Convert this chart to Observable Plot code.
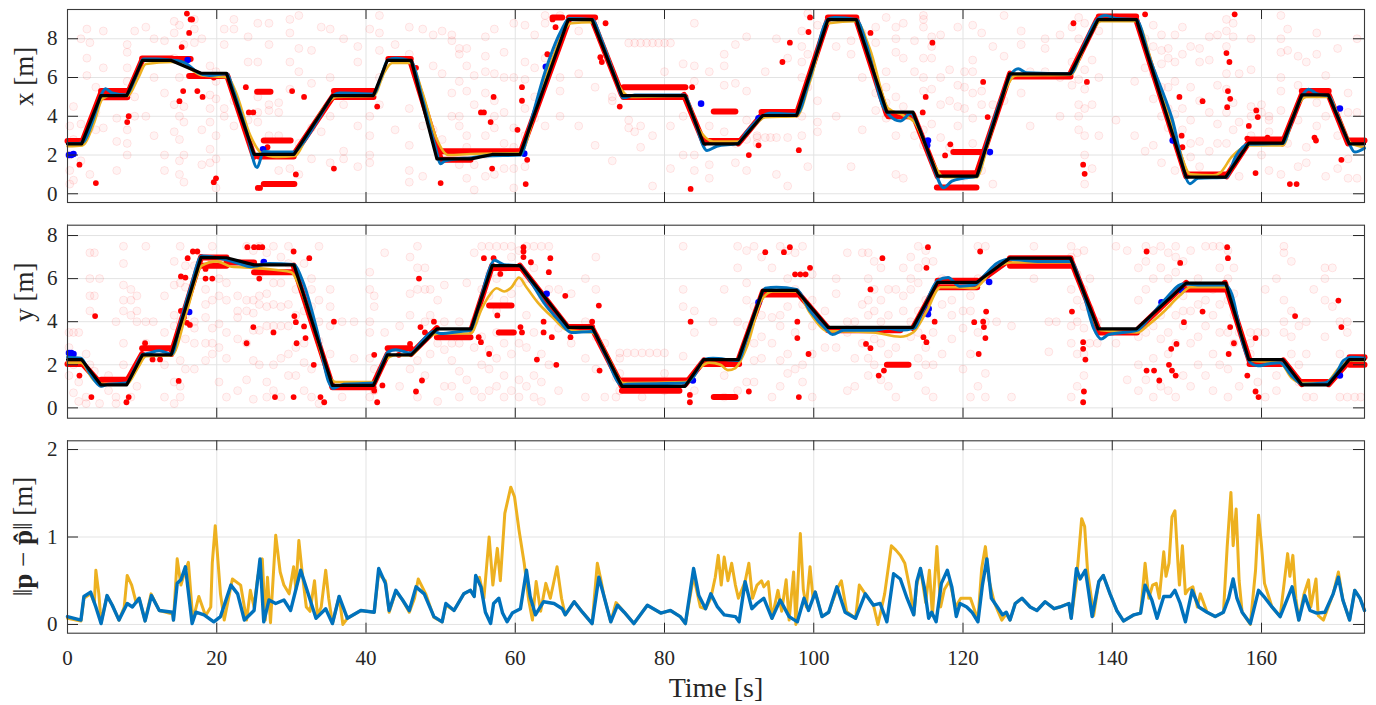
<!DOCTYPE html>
<html><head><meta charset="utf-8">
<script src="https://cdn.jsdelivr.net/npm/d3@7"></script>
<script src="https://cdn.jsdelivr.net/npm/@observablehq/plot@0.6"></script>
<style>
body{margin:0;background:#fff;}
#chart{position:relative;width:1376px;height:705px;}
#chart svg{position:absolute;left:0;font-family:'Liberation Serif','DejaVu Serif',serif;}
#chart svg text{font-family:'Liberation Serif','DejaVu Serif',serif;}
</style></head><body><div id="chart"></div>
<script>
// ---------------- data ----------------
const timeTicks = [0,20,40,60,80,100,120,140,160];
const xTicks = [0,2,4,6,8];
const yTicks = [0,2,4,6,8];
const errTicks = [0,1,2];

const truthT = [0,1.9,4.46,7.94,10.04,13.9,17.9,21.3,25.0,30.35,35.5,41.0,42.85,46.07,49.5,54.1,56.9,60.65,67.1,70.3,74.3,82.75,85.25,89.9,93.15,97.7,101.9,105.7,109.8,113.3,116.6,121.85,126.25,134.4,138.1,143.25,149.9,155.2,158.3,162.85,165.4,168.95,171.75,173.8];
const truthX = [2.58,2.58,5.07,5.07,6.88,6.88,6.22,6.22,2.03,2.03,5.07,5.07,6.88,6.88,1.8,1.8,2.03,2.03,8.99,8.99,5.07,5.07,2.58,2.58,4.04,4.04,8.99,8.99,4.21,4.21,0.91,0.91,6.19,6.19,8.99,8.99,0.86,0.86,2.61,2.61,5.1,5.1,2.58,2.58];
const truthY = [2.24,2.24,1.07,1.07,2.46,2.46,6.99,6.97,6.64,6.64,1.04,1.04,2.46,2.46,3.67,3.67,6.6,6.6,3.74,3.74,1.0,1.0,2.24,2.24,5.45,5.45,3.74,3.74,3.74,3.74,5.83,5.83,6.95,6.95,3.67,3.67,5.79,5.79,2.24,2.24,1.07,1.07,2.24,2.24];

const blueX = [[0,2.6],[1.5,2.6],[2.2,2.7],[3.5,3.9],[4.5,5.1],[5.1,5.42],[6,5.2],[7.9,5.1],[9,5.9],[10.2,6.95],[12,6.95],[13.8,6.9],[15,6.85],[16,6.7],[17.5,6.25],[19,6.1],[21.4,6.2],[22,5.6],[24,3.2],[25.4,1.35],[26.3,2.2],[27.5,2.15],[30.3,2.15],[31.5,2.6],[34,4.1],[35.7,5.1],[36.5,5.2],[41,5.15],[42,6.0],[42.9,6.9],[44,7.0],[46,6.85],[47.5,5.0],[49.3,2.4],[50,1.55],[50.6,1.7],[52,1.8],[54,1.85],[56,1.95],[60.7,2.0],[62,3.6],[64,6.3],[66,8.3],[67.3,9.05],[70.3,9.0],[71.5,8.0],[73.5,5.9],[74.5,4.95],[76,5.1],[82.6,5.1],[84,3.8],[85.7,2.23],[87,2.45],[89.8,2.6],[91,3.2],[93.1,4.0],[94,4.15],[97.7,4.1],[99.5,6.0],[101.9,9.0],[102.8,9.1],[105.7,9.0],[107,7.8],[109.3,4.5],[110,4.1],[111.6,3.75],[113,4.15],[114,3.5],[116,1.4],[117.4,0.31],[118.5,0.65],[120,0.8],[121.8,0.9],[123,2.4],[125,4.8],[126.5,6.2],[127.4,6.45],[128.5,6.25],[134.4,6.2],[136,7.5],[138,9.0],[139.1,9.2],[140.5,9.05],[143.2,9.0],[145,7.0],[148,3.9],[150.4,0.52],[151.5,0.8],[155.3,0.85],[156.5,1.9],[158.2,2.55],[162.85,2.6],[164,3.7],[165.5,5.1],[166.3,5.4],[167.5,5.15],[169,5.05],[170,4.2],[171.6,2.7],[172.5,2.15],[173.8,2.35]];
const orangeX = [[0,2.45],[2,2.5],[3.5,3.6],[4.7,4.9],[6,5.1],[8,5.05],[9.5,6.0],[10.5,6.7],[14,6.8],[16,6.55],[18,6.1],[21.5,6.0],[22.5,5.3],[24.5,3.0],[26,2.1],[28,1.9],[30.5,1.95],[32,2.9],[34.5,4.5],[36,5.0],[41,5.05],[42.5,6.3],[43.5,6.75],[46,6.75],[47.5,5.3],[49.5,2.8],[51,2.0],[54,2.05],[60.7,2.1],[62.5,4.0],[65,7.0],[67.5,8.8],[70.3,8.85],[72,7.5],[74,5.5],[75.5,5.0],[82.6,5.05],[84.5,3.4],[86.5,2.7],[89.9,2.7],[91.5,3.3],[93.5,3.95],[97.7,4.0],[99.5,5.8],[102,8.8],[105.7,8.9],[107.5,7.5],[110,4.4],[112,4.05],[113.5,3.7],[115.5,2.0],[117.5,0.85],[121.8,0.85],[123.5,2.8],[125.5,5.2],[127,6.1],[134.4,6.15],[136.5,7.8],[138.5,8.9],[143.2,8.9],[145.5,6.5],[148.5,2.9],[150.5,1.0],[153.5,0.95],[154.5,1.1],[156,1.9],[158.5,2.5],[162.85,2.5],[164.5,4.3],[166,5.0],[169,5.0],[170.5,3.8],[172,2.6],[173.8,2.4]];
const blueY = [[0,2.35],[1.8,2.3],[3,1.6],[4.5,1.0],[5.5,1.1],[7.9,1.15],[9,1.8],[10,2.45],[11,2.55],[12.3,2.65],[14,2.5],[15,3.8],[16.5,5.6],[18,7.05],[19.5,7.0],[21,6.9],[23,6.7],[24.5,6.55],[25.5,6.6],[27,6.7],[30.3,6.65],[31.5,5.9],[33.5,3.5],[35,1.2],[35.6,0.9],[37,1.1],[41,1.15],[42,1.9],[43,2.6],[44,2.7],[46,2.55],[47.5,3.1],[49,3.55],[50,3.45],[52.7,3.55],[54,3.6],[55,4.6],[56.5,6.4],[57.2,6.85],[58.5,6.65],[60.6,6.6],[62,5.9],[64,4.8],[66,4.0],[67.5,3.5],[70.3,3.55],[72,2.5],[74.3,1.05],[75,1.1],[82.9,1.15],[84,1.5],[85.3,2.25],[86.5,2.3],[89.9,2.2],[91,3.2],[92.5,4.8],[93.5,5.55],[95,5.6],[97.7,5.5],[99.5,4.5],[101.8,3.6],[102.5,3.4],[104,3.6],[108,3.6],[110,3.7],[111.6,3.6],[113.5,3.7],[114.5,4.4],[116.6,5.9],[118,6.05],[119.5,5.65],[121.5,5.7],[123,6.2],[124.5,6.7],[126.2,6.9],[128,6.85],[130,6.8],[134.4,6.8],[136,5.5],[137.5,3.7],[138.5,3.2],[139.5,3.4],[143.3,3.6],[145,4.2],[147,5.0],[149.5,5.75],[152,5.7],[155.1,5.7],[156,5.3],[157.5,3.0],[158.5,2.1],[159.5,1.95],[161,2.05],[162.5,2.1],[164,1.5],[165.5,1.1],[168.5,1.15],[170,1.6],[171,2.2],[172,2.35],[173.8,2.3]];
const orangeY = [[0,2.1],[1.8,2.1],[3.5,1.3],[5,1.1],[7.9,1.1],[9.5,1.9],[10.5,2.4],[14,2.45],[16,4.5],[18,6.6],[20,6.8],[22,6.55],[25,6.5],[28,6.4],[30,6.3],[31,5.7],[33,3.8],[35,1.5],[36,1.2],[41,1.2],[42.5,2.2],[44,2.45],[46,2.45],[48,3.2],[50,3.45],[54,3.45],[55.5,4.6],[56.5,5.2],[57.5,5.55],[58.5,5.4],[59.5,5.6],[60.5,6.05],[61.5,5.6],[63,4.9],[65,4.2],[67,3.6],[70.3,3.5],[72.5,2.3],[74.5,1.15],[82.9,1.2],[84.5,1.8],[86,2.1],[87.5,2.0],[88.5,1.75],[89.5,1.85],[91,2.8],[93,5.0],[94.5,5.4],[97.7,5.4],[99.5,4.4],[102,3.55],[104,3.55],[108,3.5],[111.6,3.3],[113.3,3.5],[115,4.4],[117,5.6],[119,5.6],[121.5,5.55],[124,6.4],[126.5,6.75],[134.4,6.75],[136.5,5.0],[138.5,3.6],[143.3,3.5],[145,3.9],[147,4.5],[149,5.2],[150.5,5.6],[155.1,5.6],[157,3.8],[158.5,2.2],[162.5,2.1],[164,1.4],[165.5,1.15],[168.5,1.15],[170.5,1.9],[172,2.2],[173.8,2.2]];

// measurement clusters: [t1, v1, t2, v2]
const xBands = [[0,2.72,2,2.72],[4.5,5.3,8,5.3],[4.5,4.98,8,4.98],[10,6.98,14,6.98],[14,6.95,16.5,6.95],[16.3,6.08,21.4,6.08],[26.3,2.75,29.9,2.75],[25.6,1.92,30.3,1.92],[26.3,0.5,30.4,0.5],[25.4,5.27,27.2,5.27],[35.7,5.3,41,5.3],[35.7,5.0,41,5.0],[43,6.95,46,6.95],[50,2.2,60.7,2.2],[50,1.75,54,1.75],[65,9.1,66.3,9.1],[67.2,9.1,70.7,9.1],[74.5,5.5,82.8,5.5],[74.5,5.0,82.8,5.0],[85.3,2.72,90,2.72],[86.6,4.25,89.5,4.25],[93,4.22,97.7,4.22],[101.9,9.1,105.7,9.1],[110,4.0,113.3,4.0],[116.8,1.06,121.8,1.06],[116.5,0.33,121.8,0.33],[118.7,2.15,122.7,2.15],[126.3,6.05,134.4,6.05],[138.2,9.15,143.2,9.15],[149.9,1.0,155.3,1.0],[158.3,2.8,162.8,2.8],[165.4,5.3,169,5.3],[171.6,2.75,173.8,2.75],
 [2,2.7,4.5,5.2],[8,5.1,10,6.9],[21.4,6.1,25,1.9],[30.3,2.0,35.7,5.1],[46,6.8,50,1.8],[60.7,2.1,67.2,9.0],[70.3,9.0,74.3,5.1],[82.6,5.1,85.3,2.6],[89.9,2.6,93.1,4.1],[97.7,4.1,101.9,9.0],[105.7,9.0,109.8,4.1],[113.3,4.1,116.6,0.9],[121.8,1.0,126.3,6.2],[134.4,6.2,138,9.0],[143.2,9.0,149.9,0.9],[155.3,0.9,158.2,2.6],[162.8,2.6,165.4,5.1],[169,5.1,171.6,2.6]];
const yBands = [[0,2.04,1.9,2.04],[4.5,1.3,8,1.3],[10,2.77,14,2.77],[18,6.6,21.3,6.6],[18,6.98,21.3,6.98],[21.3,6.75,25,6.75],[25,6.3,30.3,6.3],[35.5,0.96,41,0.96],[42.9,2.77,46,2.77],[49.5,3.28,54,3.28],[57,6.49,60.7,6.49],[56.5,4.75,59.5,4.75],[57.8,3.5,59.8,3.5],[67.1,3.75,70.3,3.75],[74.3,1.27,83,1.27],[74.3,0.8,82,0.8],[85.3,2.04,90,2.04],[86.6,0.5,89.5,0.5],[93.2,5.26,97.7,5.26],[101.9,3.6,111.6,3.6],[109.8,2.0,112.7,2.0],[116.6,5.6,121.9,5.6],[116.6,5.9,121.9,5.9],[126.3,6.6,134.4,6.6],[126.3,6.95,134.4,6.95],[138.2,3.5,143.3,3.5],[149.9,5.5,155.1,5.5],[158.4,2.04,162.9,2.04],[165.4,1.2,169,1.2],[171.8,2.35,173.8,2.35],[171.8,2.0,173.8,2.0],
 [1.9,2.1,4.5,1.1],[7.9,1.2,10,2.5],[13.9,2.5,17.9,7.0],[30.3,6.6,35.5,1.0],[41,1.1,42.9,2.5],[46,2.5,49.5,3.7],[54.1,3.6,56.9,6.6],[60.6,6.6,67.1,3.7],[70.3,3.7,74.3,1.0],[82.8,1.1,85.3,2.2],[89.9,2.2,93.2,5.4],[97.7,5.4,101.9,3.7],[113.3,3.7,116.6,5.8],[121.9,5.8,126.3,6.9],[134.4,6.9,138.2,3.6],[143.3,3.6,149.9,5.8],[155.1,5.8,158.4,2.2],[162.9,2.2,165.4,1.1],[169,1.1,171.8,2.2]];

const xDots = [[1.6,1.5],[3.8,0.55],[8.0,3.7],[8.2,4.0],[15.3,7.57],[16.0,9.3],[16.5,9.0],[16.7,9.0],[16.3,8.3],[15.0,4.78],[15.5,5.3],[17.4,5.3],[18.1,5.0],[19.6,6.0],[19.6,0.6],[19.9,0.8],[23.9,5.5],[24.3,4.2],[24.9,4.2],[25.5,0.3],[25.8,0.3],[26.8,2.4],[30.6,1.0],[30.1,5.3],[31.7,5.0],[35.7,1.3],[41.5,4.5],[46.7,6.5],[50.0,0.55],[55.4,4.2],[55.8,4.2],[56.7,3.7],[56.9,1.3],[57.1,5.0],[60.3,3.3],[60.9,5.5],[60.9,4.8],[61.4,0.5],[61.6,1.75],[64.3,7.2],[65.0,9.0],[65.4,8.6],[71.4,7.05],[71.6,6.8],[72.1,8.8],[74.0,4.5],[83.5,0.25],[83.7,5.5],[91.3,2.0],[92.6,2.5],[95.8,6.8],[96.8,7.8],[98.0,2.25],[99.3,8.35],[99.5,9.1],[107.6,8.3],[114.6,4.2],[115.0,5.0],[115.9,7.8],[117.6,1.98],[118.3,2.55],[122.7,5.77],[123.3,3.96],[134.8,8.8],[136.1,1.5],[136.3,1.03],[136.6,5.77],[144.4,9.26],[149.0,5.0],[149.3,3.0],[149.4,2.4],[152.1,4.78],[155.3,7.26],[155.4,4.47],[155.5,5.3],[155.7,6.8],[155.8,4.9],[156.4,9.26],[158.1,2.85],[158.3,3.5],[159.2,1.07],[159.3,4.3],[159.5,3.96],[160.8,2.9],[163.8,0.5],[164.7,0.5],[167.1,2.9],[167.3,2.75],[170.7,1.75]];
const yDots = [[1.6,1.5],[3.2,0.5],[3.7,4.26],[7.9,0.26],[8.2,0.5],[10.4,3.0],[11.4,2.25],[12.4,2.25],[14.9,1.25],[15.2,4.5],[15.6,4.2],[16.0,3.95],[16.4,3.85],[15.2,6.1],[15.8,6.05],[16.1,6.95],[16.8,7.26],[17.4,7.26],[18.5,6.45],[18.5,6.0],[19.4,6.0],[24.0,3.0],[24.1,7.46],[25.0,7.46],[25.6,7.46],[26.1,7.46],[24.9,3.75],[25.7,6.0],[27.6,3.5],[27.8,0.5],[30.3,0.5],[30.3,7.26],[30.4,4.26],[30.6,3.98],[30.7,3.0],[31.7,3.78],[31.9,3.24],[32.4,6.95],[33.0,2.0],[33.9,0.5],[34.4,0.26],[35.7,4.0],[41.1,2.46],[41.1,0.8],[41.5,0.26],[42.2,1.04],[44.4,2.46],[45.9,2.97],[46.7,0.76],[47.1,6.0],[47.5,1.27],[47.3,3.75],[47.9,3.5],[49.1,4.0],[55.4,3.05],[55.8,6.95],[57.1,6.95],[56.5,2.5],[55.1,3.28],[57.6,4.29],[58.0,6.22],[60.7,3.75],[60.9,3.5],[61.1,7.46],[61.1,7.26],[61.1,7.0],[62.1,6.76],[62.9,2.24],[63.8,4.0],[63.8,3.5],[64.5,6.3],[64.7,6.95],[64.9,3.28],[65.5,2.0],[65.4,4.26],[66.7,5.2],[67.4,3.28],[70.3,4.0],[71.2,4.75],[71.3,1.73],[83.5,4.0],[83.4,0.26],[83.4,0.6],[91.3,0.76],[93.5,7.23],[96.0,7.23],[96.8,7.46],[97.5,6.2],[98.2,6.2],[98.9,6.2],[99.5,6.5],[98.0,0.5],[99.3,2.5],[97.8,4.0],[97.8,3.24],[107.6,5.5],[109.2,6.95],[107.6,2.77],[107.0,2.97],[109.4,1.73],[108.7,1.5],[115.3,7.46],[115.1,6.5],[114.7,3.28],[115.1,3.05],[116.2,4.0],[122.3,7.26],[123.1,4.47],[122.7,4.0],[122.8,3.75],[123.0,3.24],[122.1,2.5],[121.5,3.98],[134.6,4.47],[136.1,3.05],[136.1,2.74],[136.4,2.24],[136.2,0.76],[136.1,0.26],[144.6,7.26],[144.6,1.73],[145.6,1.73],[146.3,1.27],[147.9,2.74],[147.6,2.0],[148.0,1.73],[148.5,1.5],[148.6,2.97],[149.1,6.73],[149.6,3.98],[152.1,4.47],[155.4,7.46],[155.5,6.95],[155.6,2.5],[155.8,3.75],[156.3,3.0],[158.1,1.5],[159.2,3.24],[159.2,0.76],[159.6,0.5],[164.5,4.26],[170.3,4.98],[170.7,3.75]];

const xBlueDots = [[0.2,2.0],[0.5,2.0],[0.8,2.05],[16.1,6.9],[26.2,2.3],[61.2,2.07],[64.1,6.55],[84.9,4.65],[92.6,3.9],[115.2,2.5],[115.3,2.75],[123.6,2.15],[148.1,2.75],[170.5,4.4]];
const yBlueDots = [[0.2,2.55],[0.5,2.55],[0.8,2.5],[16.3,4.45],[26.3,6.77],[64.2,5.3],[83.8,1.27],[92.6,4.9],[115.3,4.35],[115.4,4.6],[123.5,5.84],[146.6,4.9],[149.3,5.45],[170.5,1.5]];

// rejected measurements (faint): [t, [values]]
const xFaint = [[0.3,[0.5,1.2,2.0,3.5]],[0.8,[0.7,4.5,2.8]],[1.8,[1.7,3.6,8.0]],[2.6,[8.5,7.0,6.1]],[3.0,[7.8,3.4,1.0]],[3.8,[4.2,3.3,5.5]],[4.8,[3.4,6.5,8.4]],[6.6,[3.9,2.7,1.2]],[8.0,[7.7,7.3,6.5,5.8,3.3,2.6,2.0]],[9.0,[8.4,5.0,4.0]],[10.5,[4.0,8.6]],[11.6,[8.0,6.0,3.0]],[13.0,[7.9,5.2,2.0,1.2]],[14.3,[8.9,8.3,7.0,4.6,3.2]],[15.0,[8.7,6.0,4.0,2.8,1.7,1.0]],[15.6,[7.7,4.5,3.7,2.0,0.6]],[17.0,[9.0,8.5,7.8]],[18.0,[8.0,3.3,1.5]],[19.1,[6.6,5.1,4.4,3.7,2.3,1.6]],[19.9,[6.3,5.8,4.9,3.0,1.8,0.3]],[21.0,[8.5,7.7,4.4,4.0]],[22.3,[9.0,8.5,4.8,3.5]],[24.2,[8.1,6.8,3.8]],[25.5,[8.8,6.8,5.0,4.2,3.7]],[27.0,[8.8,7.7,4.6,3.0,4.3]],[28.3,[4.2,4.7,3.0,1.2]],[29.8,[9.0,8.3,6.8,5.4,1.3]],[31.0,[9.2,7.5,6.3,2.6,1.0]],[32.7,[7.4,5.7,3.4,1.8]],[34.0,[8.6,3.2]],[35.2,[8.5,6.0,4.0,1.6]],[37.0,[8.0,4.6,2.2,1.8]],[38.9,[7.6,6.8,3.5,1.4]],[40.5,[8.5,4.0,3.0,2.0,1.6]],[41.8,[9.2,8.3,7.4,6.0,4.6]],[43.9,[7.7,3.3]],[45.8,[8.6,7.2,4.4,2.5,1.2,0.6]],[47.6,[8.5,3.5,0.9]],[49.0,[8.2,6.6,3.3]],[50.2,[8.4,6.2,2.8]],[51.5,[8.2,7.9,5.2,4.0]],[52.5,[7.2,7.5,5.8,4.0,3.5,1.5]],[53.5,[7.5,6.6,5.3,3.0,2.4,0.8]],[54.5,[6.1,4.6,1.5,0.2]],[56.0,[8.1,7.1,6.3,5.2,3.0,2.0,0.9]],[57.2,[8.5,6.2,4.8,4.0,3.4,1.0]],[58.5,[7.3,6.0,4.2,2.6,1.3]],[59.8,[8.8,6.0,3.4,2.4,1.3,0.3]],[61.3,[8.7,6.8,5.9,4.4,3.0,1.4]],[62.6,[8.2,6.5,5.0,3.9]],[64.0,[9.2,8.8,7.0,3.5]],[66.0,[9.2,6.0,5.3,4.0]],[68.5,[8.4,6.2,3.5]],[70.7,[8.9,5.5,2.5]],[73.0,[5.0,4.8,1.7]],[75.2,[7.78,3.4,3.8]],[76.0,[7.78,3.2]],[76.8,[7.78,3.5,2.4]],[77.6,[7.78]],[78.4,[7.78,3.0,0.4]],[79.2,[7.78]],[80.0,[7.78,6.3]],[80.8,[7.78,3.5,1.3]],[82.5,[6.7,2.0,4.0]],[84.0,[8.8,6.6,5.8,2.0,1.2]],[86.0,[6.3,3.5,1.5,0.8]],[88.0,[7.2,6.6,5.6,3.2]],[89.5,[7.7,5.7,2.6,1.6]],[91.0,[8.1,5.3,3.8,2.8,1.2]],[92.4,[3.0,2.9,2.6]],[93.5,[2.9,6.3]],[94.2,[2.9]],[95.0,[8.0,2.9,1.0]],[96.5,[7.0,2.9,0.4]],[98.4,[8.4,7.6,6.8,6.0,4.0,3.0]],[99.2,[9.3,7.2,5.5,1.4]],[100.5,[8.7,4.8,3.7,3.2]],[103.0,[7.6,4.0]],[105.0,[7.9,7.2,1.4]],[106.5,[8.3,6.0,3.3]],[108.3,[8.6,7.8,5.2,4.3]],[109.7,[9.1,6.3,5.5,4.7,3.9]],[111.0,[8.6,8.0,7.3,5.0,3.0,1.0]],[112.0,[8.8,7.0,4.5,0.8]],[113.5,[7.9,6.3,3.0]],[114.7,[9.2,9.0,8.6,7.0,6.0,5.3,3.3,2.5]],[115.8,[8.1,7.6,7.0,5.4,3.6]],[117.0,[8.2,6.0,4.6,2.9]],[118.2,[6.4,4.8,2.4]],[119.3,[8.6,5.6,4.5,3.5]],[120.2,[6.3,5.5,4.4,0.9]],[121.3,[8.7,6.9,6.3,5.2,3.9,2.6]],[122.5,[8.3,5.3,4.6,1.2]],[124.0,[7.6,4.6,0.5]],[125.5,[9.2,7.1,4.8]],[127.8,[8.4,7.7,5.2]],[129.0,[6.3,3.5]],[131.0,[8.0,7.5,6.3]],[133.0,[8.2,6.0,4.0]],[134.6,[8.6,6.8,5.6]],[135.5,[9.1,8.0,7.1,5.9,4.6,4.0,3.3]],[136.3,[8.8,6.4,5.4,4.4,3.0,2.0,0.5]],[137.3,[6.9,4.6,1.3]],[138.2,[8.4,6.0,3.0]],[140.5,[9.1,3.8]],[143.0,[5.8,3.0]],[144.4,[8.0,6.5,2.2]],[145.5,[8.7,7.6,6.2,4.9,2.5]],[146.6,[8.2,7.4,6.7,5.5,4.0,1.6]],[147.5,[7.5,7.0,5.5,4.4,3.4]],[148.4,[8.2,6.8,5.8,4.1,3.0,1.2]],[149.4,[8.6,7.2,4.4,3.3]],[150.5,[7.6,5.5,3.8,2.6,1.9]],[151.7,[7.5,6.8,4.8,2.7,1.4]],[153.0,[8.1,6.9,4.2,2.2]],[154.1,[8.2,5.6,3.6,2.6]],[155.3,[9.0,8.4,7.6,6.2,5.4,4.2,2.6]],[156.2,[8.8,8.1,4.7,3.3,1.5]],[157.0,[6.2,3.7,0.9]],[158.6,[8.0,6.4,4.5,4.0,3.0]],[160.0,[4.6,4.2,2.0]],[161.0,[4.0,3.8,3.2,1.2]],[162.6,[9.2,8.0,7.3,6.0,5.3,4.3,1.0]],[163.5,[8.5,7.4,2.6]],[164.9,[7.1,5.6,3.8,1.4]],[166.0,[6.8,2.4,1.6]],[167.4,[8.3,7.2,4.7,3.5]],[168.6,[6.1,4.0,0.9]],[170.2,[7.5,4.2,3.0,1.3]],[171.6,[5.2,4.2,1.8,0.8]],[172.8,[8.0,4.2,0.8]]];
const yFaint = [[0.2,[3.5,2.8,1.5]],[0.8,[3.5,2.0,0.7]],[1.5,[3.5,1.2,0.3]],[2.5,[2.5,0.5,0.2]],[3.0,[7.2,6.0,5.2,4.5,2.0]],[3.6,[7.2,5.2,1.7]],[4.3,[6.0,0.2]],[5.5,[1.5,0.8]],[6.5,[4.0,0.5,0.2]],[7.5,[7.5,6.7,5.7,5.0,4.5,3.0,2.0]],[8.5,[5.5,5.0,4.3,0.5]],[9.3,[5.2,4.5,4.0,1.0]],[10.5,[7.5,4.0,3.0]],[11.5,[4.0,2.3]],[13.0,[5.2,3.5,2.0,0.5]],[14.3,[6.8,5.7,4.3,3.8,1.2,0.2]],[15.1,[7.5,5.8,4.0,2.2,1.0,0.5]],[15.8,[6.6,5.6,4.3,3.2,1.8]],[17.0,[6.6,4.0,3.7,3.0,1.8]],[18.5,[5.5,4.8,4.2,3.0,2.2]],[19.4,[7.5,6.8,5.0,3.7,3.0,2.5]],[20.3,[6.0,5.2,3.9,2.8,1.2]],[21.3,[5.8,5.0,3.5,2.3,0.5]],[22.8,[5.2,4.5,4.2,3.2,0.8]],[24.0,[7.5,5.0,4.5,3.0,1.3]],[24.9,[7.3,5.0,4.4,3.6,2.2,0.4]],[25.7,[7.5,6.2,5.2,4.8,3.6,2.0]],[26.7,[7.2,5.3,4.7,3.8,1.2,0.5]],[27.6,[7.5,5.8,4.8,3.8,2.0,0.8]],[28.6,[7.0,5.8,4.7,3.8,2.3,0.5]],[29.6,[7.5,6.7,4.8,3.8,2.5,1.5]],[30.6,[5.5,4.3,2.8,1.5]],[31.7,[6.7,4.5,3.0,2.1,0.8]],[32.7,[6.0,5.5,4.7,1.8,0.5]],[33.7,[7.5,5.0,4.0,3.1,0.2]],[35.2,[5.5,4.7,3.8,2.5]],[36.8,[4.0,0.5]],[38.4,[4.0,2.3]],[40.5,[6.3,5.5,4.0,3.5,2.3,0.5]],[41.1,[5.2,4.7,1.8,0.8]],[42.5,[7.2,3.5]],[44.5,[3.8,1.0]],[45.9,[7.0,5.3,4.3,1.8]],[46.9,[7.5,6.5,5.5,2.2,0.5]],[47.9,[6.5,5.5,4.0,1.5]],[48.6,[5.5,4.3,2.5]],[49.6,[5.0,3.0,0.3]],[50.5,[5.7,4.0,2.7,1.0]],[51.5,[3.0,2.2,1.0]],[52.5,[4.0,3.0,1.7,0.5]],[53.5,[5.8,3.5,1.3]],[54.5,[7.2,4.0,2.8,0.8]],[55.5,[7.5,5.5,3.3,2.0,0.5]],[56.5,[7.5,6.2,5.2,2.7,1.8,0.8]],[57.5,[7.5,6.0,4.5,3.5,2.3,1.0]],[58.5,[7.5,6.5,5.0,3.0,1.5,0.5]],[59.5,[7.5,7.0,5.3,2.5,0.8]],[60.5,[7.3,5.8,3.0,1.3,0.5]],[61.5,[7.5,6.0,4.3,2.8,1.0]],[62.5,[7.5,6.5,3.5,1.5,0.5]],[63.5,[7.5,5.0,2.5,1.2,0.3]],[64.5,[7.5,5.5,4.7,2.0]],[65.8,[5.5,3.7,0.8]],[67.5,[3.0,5.3]],[69.4,[6.0,4.0,2.3,0.5]],[70.8,[7.0,5.5,3.3,1.8]],[72.0,[3.0,0.5]],[73.5,[1.4,0.5]],[74.0,[2.55,2.3,1.6,0.8]],[75.0,[2.55]],[76.0,[2.55]],[77.0,[2.55,0.5]],[78.0,[2.55]],[79.0,[2.55]],[80.0,[2.55,1.6,0.8]],[82.5,[7.5,5.5,4.7,2.4]],[84.0,[3.5,4.5,0.8]],[86.5,[4.0]],[88.0,[5.5,1.5,0.5]],[89.8,[7.5,6.5,4.0,0.8]],[91.0,[7.3,5.8,5.0,3.8,1.2]],[92.0,[7.5,4.7,3.0,2.2,1.2]],[93.0,[7.0,4.3,3.3,2.3]],[94.4,[6.5,4.2,3.0,0.5]],[95.5,[7.5,4.3,3.8,2.2,1.0]],[96.5,[7.3,6.0,4.7,2.5,1.6]],[97.5,[7.2,5.5,3.5,1.8]],[98.5,[7.5,6.2,4.8,2.0,1.2]],[99.8,[6.2,5.0,3.8,2.5,0.5]],[101.5,[4.5,2.8]],[103.0,[6.0,5.3,2.8]],[104.5,[7.2,4.0,3.5,0.8]],[105.5,[4.0,2.3,1.0]],[106.5,[7.2,4.8,3.0]],[107.3,[7.2,6.0,5.0,4.3,2.3,1.5]],[108.1,[6.8,5.5,4.5,3.2,2.0]],[109.0,[6.5,5.0,4.0,3.0,1.3]],[110.0,[5.5,4.3,2.5,1.0]],[111.0,[5.5,2.8,0.5]],[112.0,[6.5,5.2,4.5]],[113.0,[7.0,6.0,5.5,4.0,3.3]],[114.0,[7.5,6.5,5.8,4.5,3.5,2.3,1.5]],[115.0,[7.3,6.8,5.0,2.8,2.0,0.8]],[116.0,[6.8,3.5,2.0,0.5]],[117.2,[6.0,4.8,2.5]],[118.5,[5.0,4.3,3.2]],[120.0,[4.5,3.7,1.8]],[121.0,[5.2,4.5,2.5,0.5]],[122.0,[7.5,6.0,3.5,1.0]],[123.0,[7.5,6.0,4.0,1.6,0.5]],[124.5,[4.0]],[126.5,[3.8,0.5]],[129.5,[7.5,6.0]],[131.5,[4.0,2.6]],[132.5,[4.0]],[134.5,[7.5,7.0,5.5,3.8,3.0,0.5]],[135.3,[7.2,6.2,5.0,4.0,2.5,1.0]],[136.2,[7.3,5.5,4.7,3.7,2.5,1.5]],[137.0,[6.0,4.6,3.0]],[138.0,[4.0,3.0]],[140.5,[7.5,3.0]],[142.0,[7.3,1.3]],[143.5,[6.5,5.0,3.3,2.0,0.8]],[144.5,[7.5,6.8,5.5,3.5,1.3]],[145.5,[7.3,6.0,3.8,2.3,0.5]],[146.5,[7.5,6.5,4.3,3.2,1.0]],[147.5,[7.2,6.0,4.8,3.5,2.5,0.8]],[148.5,[7.5,7.0,6.3,4.3,3.0,0.5]],[149.5,[6.8,5.2,4.5,3.8,1.5]],[150.5,[7.3,4.5,3.0,1.0]],[151.5,[6.0,4.8,3.3,2.0]],[152.5,[7.5,5.0,3.8,1.5]],[153.5,[7.5,5.5,4.3,2.5,0.8]],[154.4,[7.5,6.5,4.8,3.5,2.0]],[155.5,[7.3,6.0,5.0,3.5,1.8,0.5]],[156.3,[6.5,5.3,4.3,3.0]],[157.0,[3.5,1.0]],[158.5,[3.5,3.0,2.5]],[159.5,[3.5,1.2]],[160.5,[3.5,5.5,0.5]],[162.0,[6.0,1.5,0.8]],[163.0,[7.5,7.2,5.0,4.0,3.5]],[164.0,[6.8,4.5,3.3,2.5]],[165.0,[3.8,2.0,1.2]],[166.0,[4.0,2.5,0.5]],[167.0,[5.5,0.5]],[168.5,[6.5,6.0,5.0,3.3]],[169.5,[6.5,4.7]],[170.5,[4.0,2.5,0.5]],[171.5,[4.0,3.5,0.5]],[172.5,[0.5]],[173.3,[0.5]]];

const errBlue = [[0,0.09],[1.8,0.05],[2.2,0.32],[3.1,0.37],[3.8,0.2],[4.5,0.01],[5.3,0.33],[6.0,0.22],[6.9,0.05],[8.0,0.24],[8.7,0.2],[9.6,0.3],[10.4,0.04],[11.25,0.33],[12.3,0.16],[14.1,0.14],[14.2,0.05],[14.7,0.47],[15.2,0.51],[15.8,0.66],[16.7,0.01],[17.2,0.14],[18.3,0.11],[19.6,0.03],[20.5,0.09],[21.9,0.45],[22.8,0.35],[23.7,0.05],[25.0,0.16],[25.8,0.75],[26.3,0.03],[27.0,0.28],[27.9,0.24],[29.0,0.28],[29.9,0.16],[31.25,0.62],[32.1,0.39],[33.3,0.07],[34.6,0.18],[35.5,0.01],[36.4,0.32],[37.5,0.07],[39.3,0.16],[41.1,0.14],[41.7,0.64],[42.6,0.47],[43.1,0.16],[44.0,0.39],[44.9,0.28],[45.8,0.16],[46.7,0.43],[47.8,0.35],[49.1,0.09],[50.2,0.03],[50.7,0.24],[51.8,0.16],[53.1,0.35],[54.0,0.39],[54.5,0.32],[54.7,0.56],[55.4,0.43],[56.0,0.14],[56.7,0.01],[57.1,0.24],[57.8,0.3],[58.3,0.13],[58.9,0.03],[59.6,0.13],[60.7,0.18],[61.5,0.62],[62.0,0.32],[62.7,0.11],[63.8,0.26],[65.2,0.24],[66.3,0.18],[66.7,0.11],[67.9,0.26],[69.0,0.14],[70.3,0.01],[71.2,0.54],[71.9,0.32],[72.8,0.03],[73.7,0.22],[74.6,0.14],[75.9,0.01],[77.7,0.22],[79.5,0.13],[80.8,0.16],[82.1,0.09],[82.8,0.01],[83.9,0.64],[84.6,0.33],[85.5,0.18],[86.2,0.35],[87.1,0.2],[88.0,0.11],[89.5,0.09],[90.0,0.03],[90.8,0.49],[91.7,0.18],[92.4,0.24],[93.3,0.3],[94.4,0.07],[95.5,0.28],[96.7,0.09],[97.8,0.03],[98.7,0.3],[99.3,0.16],[100.2,0.37],[101.1,0.09],[102.0,0.14],[103.1,0.43],[104.2,0.14],[105.6,0.07],[106.9,0.35],[108.0,0.22],[108.9,0.24],[109.8,0.03],[110.7,0.58],[111.6,0.52],[112.5,0.3],[113.4,0.11],[113.8,0.49],[114.3,0.64],[114.8,0.43],[115.4,0.07],[115.8,0.14],[116.4,0.03],[117.1,0.47],[117.9,0.62],[118.5,0.43],[119.1,0.09],[119.6,0.24],[120.5,0.2],[121.2,0.14],[122.0,0.03],[122.6,0.45],[123.2,0.75],[123.8,0.3],[124.6,0.2],[125.3,0.11],[125.8,0.14],[126.3,0.05],[127.0,0.24],[127.9,0.3],[129.0,0.2],[129.9,0.16],[131.0,0.26],[132.2,0.18],[133.0,0.2],[134.2,0.24],[134.5,0.07],[135.2,0.64],[135.7,0.52],[136.4,0.62],[136.8,0.39],[137.3,0.09],[138.2,0.49],[138.8,0.56],[139.7,0.35],[140.6,0.16],[141.5,0.04],[142.9,0.11],[143.8,0.13],[144.4,0.45],[145.3,0.28],[146.0,0.07],[146.9,0.32],[147.8,0.32],[148.4,0.39],[149.1,0.24],[149.8,0.03],[150.7,0.39],[151.6,0.2],[152.7,0.14],[153.8,0.09],[154.9,0.14],[155.6,0.3],[156.2,0.52],[156.7,0.3],[157.4,0.14],[158.5,0.01],[159.6,0.39],[160.5,0.3],[161.4,0.2],[162.5,0.09],[164.1,0.43],[165.0,0.05],[165.8,0.33],[166.5,0.16],[167.4,0.13],[168.5,0.14],[169.6,0.35],[170.3,0.54],[170.9,0.28],[171.8,0.05],[172.5,0.39],[173.2,0.3],[173.8,0.16]];
const errOrange = [[0,0.07],[1.8,0.04],[2.2,0.3],[3.1,0.35],[3.6,0.25],[3.8,0.62],[4.2,0.35],[4.5,0.02],[5.3,0.33],[6.0,0.22],[6.9,0.05],[7.6,0.2],[8.0,0.56],[8.6,0.45],[9.2,0.25],[9.6,0.3],[10.4,0.04],[11.2,0.35],[12.3,0.16],[14.1,0.12],[14.2,0.05],[14.7,0.75],[15.2,0.45],[15.7,0.6],[16.2,0.71],[16.8,0.05],[17.6,0.32],[18.5,0.1],[19.2,0.2],[19.4,0.7],[19.8,1.13],[20.5,0.35],[21.0,0.05],[22.1,0.52],[23.2,0.45],[24.0,0.05],[24.5,0.39],[25.0,0.2],[25.5,0.55],[26.1,0.75],[26.5,0.05],[26.8,0.54],[27.2,0.02],[27.9,1.02],[28.5,0.6],[29.0,0.45],[29.7,0.35],[30.3,0.66],[30.6,0.4],[31.0,0.96],[31.5,0.55],[32.0,0.2],[32.5,0.15],[33.1,0.5],[33.5,0.1],[34.0,0.2],[34.6,0.62],[35.0,0.3],[35.5,0.01],[36.4,0.32],[36.9,0.0],[37.5,0.07],[39.3,0.16],[41.1,0.14],[41.7,0.6],[41.9,0.56],[42.6,0.5],[43.1,0.14],[44.0,0.38],[44.9,0.28],[45.8,0.14],[46.5,0.3],[47.0,0.52],[48.0,0.35],[49.1,0.08],[50.2,0.03],[50.7,0.22],[51.8,0.16],[53.1,0.35],[54.0,0.39],[54.5,0.32],[54.7,0.5],[55.2,0.54],[55.8,0.3],[56.5,1.0],[57.0,0.45],[57.6,0.87],[58.0,0.5],[58.6,1.27],[59.4,1.57],[59.9,1.46],[60.5,1.08],[61.2,0.7],[61.8,0.28],[62.3,0.05],[62.8,0.49],[63.4,0.15],[64.1,0.47],[64.7,0.3],[65.6,0.66],[66.2,0.3],[66.7,0.11],[67.9,0.26],[69.0,0.14],[70.3,0.01],[71.0,0.7],[71.5,0.5],[71.9,0.32],[72.8,0.03],[73.5,0.25],[74.6,0.14],[75.9,0.01],[77.7,0.22],[79.5,0.13],[80.8,0.16],[82.1,0.09],[82.8,0.01],[83.9,0.55],[84.8,0.2],[85.5,0.18],[86.2,0.3],[86.8,0.54],[87.2,0.79],[87.6,0.45],[88.0,0.77],[88.5,0.5],[89.0,0.7],[89.5,0.45],[89.9,0.3],[90.8,0.49],[91.3,0.7],[91.8,0.3],[92.4,0.45],[93.0,0.5],[93.3,0.43],[93.9,0.49],[94.4,0.07],[95.2,0.39],[95.7,0.15],[96.3,0.51],[96.7,0.05],[97.3,0.6],[97.6,0.0],[98.2,1.04],[98.6,0.4],[99.0,0.2],[99.5,0.66],[99.9,0.3],[100.2,0.37],[101.1,0.09],[102.0,0.14],[103.1,0.4],[103.7,0.5],[104.4,0.15],[105.6,0.07],[106.1,0.45],[106.9,0.35],[108.0,0.22],[108.6,0.0],[109.5,0.35],[110.4,0.9],[111.0,0.85],[111.6,0.79],[112.2,0.7],[112.9,0.4],[113.4,0.11],[113.8,0.45],[114.3,0.64],[115.0,0.25],[115.5,0.62],[115.9,0.1],[116.5,0.89],[117.0,0.2],[117.5,0.4],[118.2,0.5],[119.0,0.2],[119.7,0.3],[120.4,0.3],[121.0,0.3],[122.0,0.05],[122.5,0.64],[123.0,0.89],[123.5,0.5],[124.2,0.25],[125.2,0.05],[125.8,0.12],[126.3,0.05],[127.0,0.24],[127.9,0.3],[129.0,0.2],[129.9,0.16],[131.0,0.26],[132.2,0.18],[133.0,0.2],[134.2,0.24],[134.5,0.07],[135.2,0.5],[135.9,1.21],[136.3,1.12],[136.7,0.6],[137.2,0.3],[137.5,0.1],[138.2,0.49],[138.8,0.56],[139.7,0.35],[140.6,0.16],[141.5,0.04],[142.9,0.11],[143.8,0.13],[144.4,0.7],[144.9,0.3],[145.4,0.45],[145.9,0.47],[146.3,0.3],[146.9,0.83],[147.2,0.55],[147.6,0.7],[148.0,1.23],[148.4,1.3],[148.8,0.7],[149.0,0.45],[149.4,0.9],[149.8,0.35],[150.2,0.4],[150.8,0.43],[151.4,0.2],[151.8,0.35],[152.7,0.14],[153.8,0.09],[154.9,0.14],[155.4,0.89],[155.9,1.51],[156.2,0.9],[156.6,1.32],[157.0,0.5],[157.4,0.14],[158.5,0.0],[159.2,0.62],[159.6,1.25],[160.0,0.9],[160.4,0.47],[161.4,0.2],[162.5,0.09],[163.5,0.81],[163.8,0.55],[164.2,0.79],[164.6,0.3],[165.0,0.05],[165.7,0.35],[166.3,0.51],[166.6,0.2],[167.3,0.52],[167.6,0.1],[168.3,0.05],[169.6,0.35],[170.3,0.6],[170.9,0.28],[171.8,0.05],[172.5,0.39],[173.2,0.3],[173.8,0.16]];

// ---------------- drawing ----------------
const W = 1376, ML = 67, MR = 12;
const frameW = W - ML - MR;
const FONT = "Liberation Serif";
const INK = "#262626";
const GRID = "#e3e3e3";
const BLUE = "#0072BD", ORANGE = "#EDB120";
const TICK = 11;
const truth = (vals) => truthT.map((t, i) => [t, vals[i]]);
const faintPts = (cols) => cols.flatMap(([t, vs]) => vs.map(v => [t, v]));

function panel({top, height, mt, mb, yDomain, ticks, marks, bottomAxis}) {
  const fh = height - mt - mb;
  const svg = Plot.plot({
    width: W, height, marginLeft: ML, marginRight: MR, marginTop: mt, marginBottom: mb,
    style: {fontFamily: FONT, color: INK, background: "transparent", overflow: "visible"},
    x: {domain: [0, 173.8]},
    y: {domain: yDomain},
    marks: [
      Plot.ruleX(timeTicks, {x: d => d, stroke: GRID, strokeWidth: 1}),
      Plot.ruleY(ticks, {y: d => d, stroke: GRID, strokeWidth: 1}),
      ...marks,
      Plot.ruleY(ticks, {y: d => d, stroke: INK, insetRight: frameW - TICK}),
      Plot.ruleY(ticks, {y: d => d, stroke: INK, insetLeft: frameW - TICK}),
      Plot.ruleX(timeTicks, {x: d => d, stroke: INK, insetBottom: fh - 10}),
      Plot.ruleX(timeTicks, {x: d => d, stroke: INK, insetTop: fh - 10}),
      Plot.frame({stroke: "#3a3a3a", strokeWidth: 1.1}),
      Plot.axisY(ticks, {tickSize: 0, tickPadding: 10, fontSize: 21, fontFamily: FONT, tickFormat: d => String(d), label: null}),
      bottomAxis ? Plot.axisX(timeTicks, {tickSize: 0, tickPadding: 17, fontSize: 21, fontFamily: FONT, tickFormat: d => String(d), label: null}) : Plot.axisX([], {label: null})
    ]
  });
  svg.style.top = top + "px";
  return svg;
}

function trackMarks(bands, faint, dots, blueDots, orange, blue, truthPts) {
  return [
    Plot.dot(faintPts(faint), {x: d => d[0], y: d => d[1], r: 4, fill: "red", fillOpacity: 0.045, stroke: "red", strokeOpacity: 0.09, strokeWidth: 1}),
    Plot.link(bands, {x1: d => d[0], y1: d => d[1], x2: d => d[2], y2: d => d[3], stroke: "red", strokeWidth: 6, strokeLinecap: "round"}),
    Plot.dot(dots, {x: d => d[0], y: d => d[1], r: 2.9, fill: "red"}),
    Plot.dot(blueDots, {x: d => d[0], y: d => d[1], r: 3.3, fill: "#0000ff"}),
    Plot.line(orange, {x: d => d[0], y: d => d[1], stroke: ORANGE, strokeWidth: 2.6, curve: "monotone-x"}),
    Plot.line(blue, {x: d => d[0], y: d => d[1], stroke: BLUE, strokeWidth: 3, curve: "monotone-x"}),
    Plot.line(truthPts, {x: d => d[0], y: d => d[1], stroke: "black", strokeWidth: 3.2})
  ];
}

const chart = document.getElementById("chart");

const p1 = panel({top: 0, height: 215, mt: 9, mb: 13, yDomain: [-0.45, 9.51], ticks: xTicks,
  marks: [...trackMarks(xBands, xFaint, xDots, xBlueDots, orangeX, blueX, truth(truthX)),
    Plot.text(["x [m]"], {frameAnchor: "left", dx: -43, rotate: -90, fontSize: 27, fontFamily: FONT, lineAnchor: "middle", fill: INK})]});
const p2 = panel({top: 215, height: 215, mt: 9.7, mb: 12.3, yDomain: [-0.48, 8.48], ticks: yTicks,
  marks: [...trackMarks(yBands, yFaint, yDots, yBlueDots, orangeY, blueY, truth(truthY)),
    Plot.text(["y [m]"], {frameAnchor: "left", dx: -43, rotate: -90, fontSize: 27, fontFamily: FONT, lineAnchor: "middle", fill: INK})]});
const p3 = panel({top: 430, height: 275, mt: 10.3, mb: 72.3, yDomain: [-0.1, 2.1], ticks: errTicks, bottomAxis: true,
  marks: [
    Plot.line(errOrange, {x: d => d[0], y: d => d[1], stroke: ORANGE, strokeWidth: 3}),
    Plot.line(errBlue, {x: d => d[0], y: d => d[1], stroke: BLUE, strokeWidth: 3.4}),
    Plot.text(["Time [s]"], {frameAnchor: "bottom", dy: 55, fontSize: 28, fontFamily: FONT, lineAnchor: "middle", fill: INK})
  ]});
chart.append(p1, p2, p3);

// y label of the error panel with bold vectors
const lab = d3.select(p3).append("text")
  .attr("transform", `translate(23, ${(10.3 + 275 - 72.3) / 2}) rotate(-90)`)
  .attr("text-anchor", "middle").attr("dominant-baseline", "central")
  .attr("font-family", FONT).attr("font-size", 27).attr("fill", INK);
lab.append("tspan").text("\u2016");
lab.append("tspan").attr("font-weight", "bold").text("p");
lab.append("tspan").text(" \u2212 ");
lab.append("tspan").attr("font-weight", "bold").text("p\u0302");
lab.append("tspan").text("\u2016 [m]");
</script>
</body></html>
